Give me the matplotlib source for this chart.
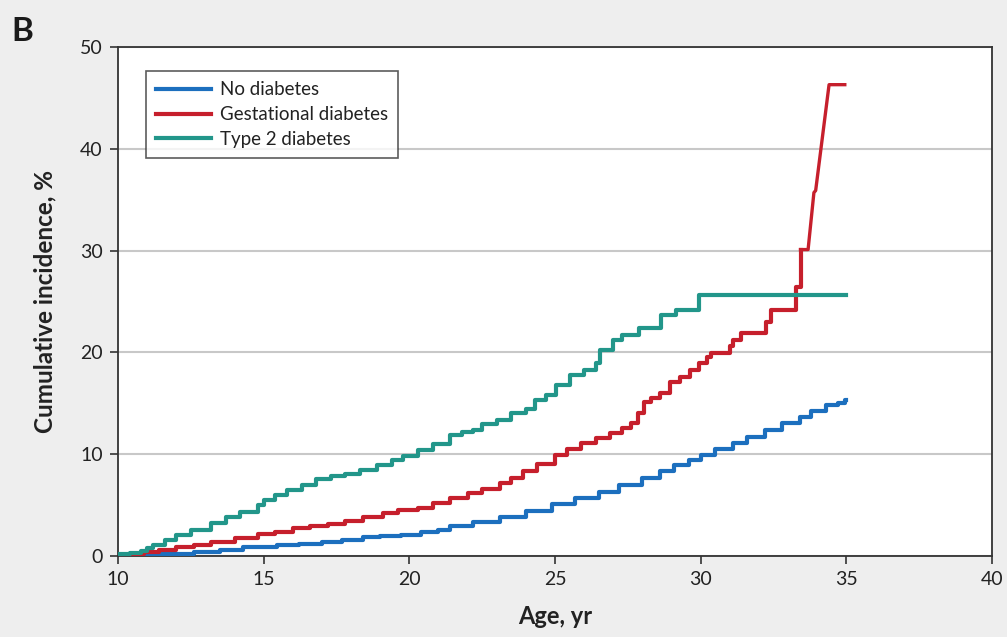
import matplotlib.pyplot as plt
import numpy as np

# Cumulative incidence (%), step values start at each age
age_none = [10.0, 11.2, 12.6, 13.5, 14.3, 15.45, 16.2, 17.0, 17.7, 18.4, 19.0, 19.7,
            20.4, 21.0, 21.4, 22.2, 23.1, 24.0, 24.9, 25.7, 26.5, 27.2, 28.0, 28.6,
            29.1, 29.6, 30.0, 30.5, 31.1, 31.6, 32.2, 32.8, 33.4, 33.8, 34.3, 34.7,
            34.95, 35.0]
inc_none = [0.0, 0.2, 0.4, 0.6, 0.9, 1.1, 1.2, 1.4, 1.6, 1.9, 2.0, 2.1,
            2.4, 2.6, 2.9, 3.3, 3.8, 4.4, 5.1, 5.7, 6.3, 7.0, 7.7, 8.3,
            8.9, 9.4, 9.9, 10.5, 11.1, 11.7, 12.4, 13.1, 13.7, 14.2, 14.8, 15.0,
            15.3, 15.3]

age_gdm = [10.0, 10.5, 10.9, 11.4, 12.0, 12.6, 13.2, 14.0, 14.8, 15.4, 16.0, 16.6,
           17.2, 17.8, 18.4, 19.1, 19.6, 20.3, 20.8, 21.4, 22.0, 22.5, 23.1, 23.5,
           23.9, 24.4, 25.0, 25.4, 25.9, 26.4, 26.9, 27.3, 27.6, 27.85, 28.05, 28.3,
           28.6, 28.95, 29.3, 29.65, 29.95, 30.22, 30.35, 31.0, 31.1, 31.4, 32.25,
           32.4, 33.27, 33.43]
inc_gdm = [0.0, 0.2, 0.4, 0.6, 0.9, 1.1, 1.4, 1.8, 2.2, 2.4, 2.7, 2.9,
           3.1, 3.4, 3.8, 4.2, 4.5, 4.7, 5.2, 5.7, 6.2, 6.6, 7.2, 7.7,
           8.3, 9.0, 9.9, 10.5, 11.1, 11.6, 12.1, 12.6, 13.1, 14.0, 15.1, 15.5,
           16.0, 17.1, 17.6, 18.3, 19.0, 19.5, 19.9, 20.6, 21.2, 21.9, 23.0,
           24.2, 26.4, 30.1]
# last part of the gestational curve is drawn with sloped segments
age_gdm_tail = [33.43, 33.69, 33.89, 33.95, 34.41, 34.95]
inc_gdm_tail = [30.1, 30.1, 35.7, 35.9, 46.3, 46.3]

age_t2d = [10.0, 10.4, 10.8, 11.0, 11.2, 11.6, 12.0, 12.5, 13.2, 13.7, 14.2, 14.8,
           15.0, 15.4, 15.8, 16.3, 16.8, 17.3, 17.8, 18.3, 18.9, 19.4, 19.8, 20.3,
           20.8, 21.4, 21.8, 22.2, 22.5, 23.0, 23.5, 24.0, 24.3, 24.7, 25.05, 25.5,
           26.0, 26.4, 26.55, 27.0, 27.3, 27.9, 28.65, 29.15, 29.95, 35.0]
inc_t2d = [0.2, 0.3, 0.5, 0.8, 1.1, 1.6, 2.1, 2.6, 3.2, 3.8, 4.3, 5.0,
           5.5, 6.0, 6.5, 7.0, 7.6, 7.9, 8.1, 8.4, 8.9, 9.4, 9.8, 10.4,
           11.0, 11.9, 12.2, 12.4, 13.0, 13.4, 14.0, 14.4, 15.3, 15.8, 16.8, 17.8,
           18.3, 19.0, 20.2, 21.2, 21.7, 22.4, 23.7, 24.2, 25.6, 25.6]

c_none = '#1c6fbe'
c_gdm = '#c61f2c'
c_t2d = '#22968a'

plt.rcParams['font.family'] = ['Lato', 'DejaVu Sans']

fig = plt.figure(figsize=(10.07, 6.37), dpi=100, facecolor='#eeeeee')
ax = fig.add_axes([0.1172, 0.1272, 0.8678, 0.799])
ax.set_facecolor('white')

lw = 3.0
ax.plot(age_none, inc_none, drawstyle='steps-post', color=c_none, lw=lw,
        label='No diabetes', zorder=3)
ax.plot(age_gdm, inc_gdm, drawstyle='steps-post', color=c_gdm, lw=lw,
        label='Gestational diabetes', zorder=3)
ax.plot(age_gdm_tail, inc_gdm_tail, color=c_gdm, lw=2.4, zorder=3)
ax.plot(age_t2d, inc_t2d, drawstyle='steps-post', color=c_t2d, lw=lw,
        label='Type 2 diabetes', zorder=3)

ax.set_xlim(10, 40)
ax.set_ylim(0, 50)
ax.set_xticks([10, 15, 20, 25, 30, 35, 40])
ax.set_yticks([0, 10, 20, 30, 40, 50])
ax.yaxis.grid(True, color='#c8c8c8', lw=1.5)
ax.set_axisbelow(True)

for s in ax.spines.values():
    s.set_color('#333333')
    s.set_linewidth(1.3)
ax.tick_params(direction='out', length=6, width=1.2, color='#333333',
               labelsize=14, labelcolor='#222222', pad=5)

ax.set_xlabel('Age, yr', fontsize=17, fontweight='bold', color='#222222', labelpad=12)
ax.set_ylabel('Cumulative incidence, %', fontsize=17.5, fontweight='bold',
              color='#222222', labelpad=17)

leg = ax.legend(loc='upper left', bbox_to_anchor=(0.032, 0.953), fontsize=13.5,
                frameon=True, fancybox=False, edgecolor='#333333',
                handlelength=2.9, borderpad=0.55, labelspacing=0.42,
                handletextpad=0.5, borderaxespad=0)
leg.get_frame().set_linewidth(1.2)
for t in leg.get_texts():
    t.set_color('#222222')

fig.text(0.011, 0.935, 'B', fontsize=24, fontweight='bold', color='#1a1a1a')

fig.savefig('out.png', dpi=100, facecolor=fig.get_facecolor())
